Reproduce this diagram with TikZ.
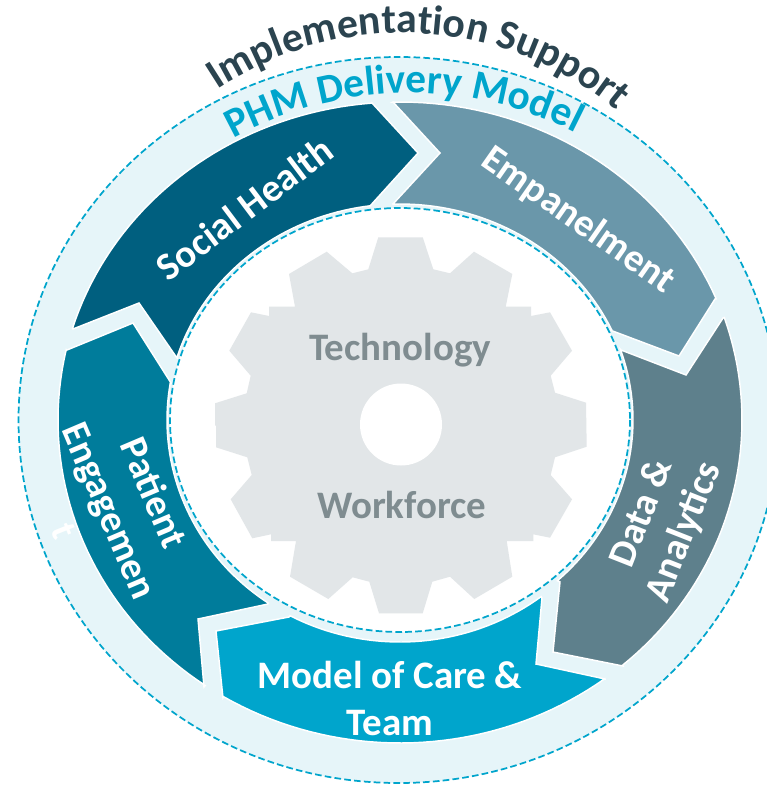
\documentclass[tikz,border=0pt]{standalone}
\usepackage{fontspec}
\setmainfont{Carlito}
\usetikzlibrary{decorations.text}
\definecolor{band}{HTML}{E6F5F9}
\definecolor{cyanc}{HTML}{00A5CC}
\definecolor{socialc}{HTML}{005F7F}
\definecolor{empc}{HTML}{6A97AA}
\definecolor{datac}{HTML}{5E808C}
\definecolor{modelc}{HTML}{00A5CC}
\definecolor{patientc}{HTML}{007C9B}
\definecolor{gearc}{HTML}{E2E6E8}
\definecolor{geartext}{HTML}{7F8C90}
\definecolor{impc}{HTML}{2B4450}
\newcommand{\imp}{\fontsize{31.3}{34}\selectfont\bfseries\color{impc}}
\newcommand{\phm}{\fontsize{31}{34}\selectfont\bfseries\color{cyanc}}
\tikzset{
  dashring/.style={draw=cyanc,line width=1.3pt,dash pattern=on 5pt off 2.4pt},
  chev/.style={draw=white,line width=1.1pt,line join=miter},
  geartxt/.style={font=\fontsize{29.2}{30}\selectfont\bfseries,text=geartext,anchor=base,inner sep=0pt},
  modeltxt/.style={font=\fontsize{29.2}{30}\selectfont\bfseries,text=white,anchor=base,inner sep=0pt},
  arclabel/.style={font=\fontsize{29.2}{30}\selectfont\bfseries,text=white,anchor=base,inner sep=0pt},
}
\begin{document}
\begin{tikzpicture}[x=0.75pt,y=-0.75pt]
\useasboundingbox (0,0) rectangle (767,785);
\clip (0,0) rectangle (767,785);
\fill[white] (0,0) rectangle (767,785);
% outer band
\path[fill=band,dashring] (398.5,420) ellipse [x radius=380,y radius=363];
% chevrons
\draw[chev,fill=socialc] (73,329) -- (139,303) -- (177,358)
  -- plot[domain=163.3:97.4,samples=40] ({400+233*cos(\x)},{420-216*sin(\x)})
  -- (370,206) -- (418,153) -- (372,103)
  -- plot[domain=94.7:163.3,samples=40] ({400+342*cos(\x)},{420-318*sin(\x)}) -- cycle;
\draw[chev,fill=empc] (393,102) -- (440,153) -- (393,204)
  -- plot[domain=91.9:24.8,samples=40] ({400+233*cos(\x)},{420-216*sin(\x)})
  -- (610,330) -- (679,356) -- (715,299)
  -- plot[domain=22.4:91.2,samples=40] ({400+342*cos(\x)},{420-318*sin(\x)}) -- cycle;
\draw[chev,fill=datac] (723,318) -- (686,375) -- (621,350)
  -- plot[domain=18.9:-47.5,samples=40] ({400+233*cos(\x)},{420-218*sin(\x)})
  -- (560,582) -- (553,652) -- (623,666)
  -- plot[domain=-49.4:18.5,samples=40] ({400+342*cos(\x)},{420-323*sin(\x)}) -- cycle;
\draw[chev,fill=modelc] (216,631) -- (289,617)
  -- plot[domain=-118.2:-52.7,samples=40] ({400+233*cos(\x)},{420-222*sin(\x)})
  -- (542,598) -- (536,664) -- (605,679)
  -- plot[domain=-53.2:-121,samples=40] ({400+342*cos(\x)},{420-323*sin(\x)})
  -- (223,698) -- cycle;
\draw[chev,fill=patientc] (67,350) -- (133,323) -- (171,383)
  -- plot[domain=170.4:235.6,samples=40] ({400+233*cos(\x)},{420-222*sin(\x)})
  -- (268,604) -- (198,619) -- (204,687)
  -- plot[domain=235.3:167.4,samples=40] ({400+342*cos(\x)},{420-323*sin(\x)}) -- cycle;
% inner circle
\path[fill=white,dashring] (400,420) ellipse [x radius=230,y radius=212];
% gear
\fill[gearc] (378.3,237.3) -- (422.7,237.3) -- (433.3,269.3) -- (450,273.3) -- (474,251.7) -- (512.3,274) -- (505.7,306.7) -- (531,306.7) -- (531,316) -- (550,312.3) -- (572,350.7) -- (550.7,375.7) -- (555,392.7) -- (586,402.7) -- (586.7,446.7) -- (555,457.3) -- (550.7,475) -- (572,499.3) -- (550,537.7) -- (533.3,534.3) -- (533.3,541) -- (506.7,541) -- (512.3,576.7) -- (474.3,599) -- (450,576.7) -- (432.3,581.7) -- (422.7,613.3) -- (379,613.3) -- (369.3,581.7) -- (352.7,577.3) -- (328.3,599) -- (290,576.7) -- (296,541) -- (271,541) -- (271,534.3) -- (252.3,538.3) -- (230.7,499.3) -- (251.7,475) -- (247.3,457.3) -- (216,447.3) -- (216,425.7) -- (215,425.7) -- (215,403.3) -- (246.7,393.3) -- (250.7,375.7) -- (229.3,350.7) -- (251,312.3) -- (269,316) -- (269,306.7) -- (295,306.7) -- (289,274) -- (326.7,251.7) -- (352.3,273.3) -- (368.3,269.3) -- cycle;
\fill[white] (401,424.5) circle [radius=41];
\node[geartxt] (tech) at (400,360) {Technology};
\node[geartxt] (work) at (402,518) {Workforce};
% model of care
\node[modeltxt] (model) at (390,688) {Model of Care \&};
\node[modeltxt] (team) at (390,735) {Team};
% slanted labels
\node[arclabel,rotate=37] (social) at (252.5,219) {Social Health};
\node[arclabel,rotate=-35] (emp) at (572,229) {Empanelment};
\node[arclabel,rotate=68.5] (data) at (652.5,517.5) {Data \&};
\node[arclabel,rotate=68.5] (analytics) at (694,536) {Analytics};
\node[arclabel,rotate=-67] (patient) at (142,498) {Patient};
\node[arclabel,rotate=-67] (engage) at (98,515.5) {Engagemen};
\node[font=\fontsize{28}{30}\selectfont\bfseries,text=white,rotate=-68,inner sep=0pt] (tlet) at (64,531) {t};
% titles
\path[decorate,decoration={text along path,text align=center,text={|\imp|Implementation Support}}] plot[domain=137:37,samples=80] ({403+332*cos(\x)},{365-332*sin(\x)});
\path[decorate,decoration={text along path,text align=center,text={|\phm|PHM Delivery Model}}] plot[domain=131:51,samples=80] ({410+362*cos(\x)},{455-362*sin(\x)});
\end{tikzpicture}
\end{document}
